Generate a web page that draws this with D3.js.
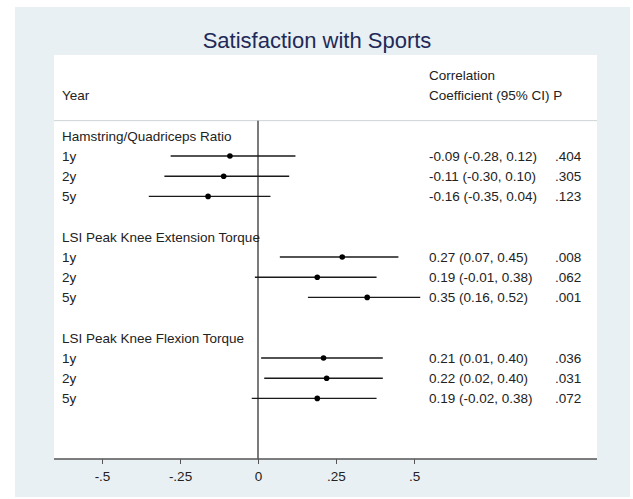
<!DOCTYPE html>
<html>
<head>
<meta charset="utf-8">
<script src="https://cdn.jsdelivr.net/npm/d3@7"></script>
<style>
  body { margin: 0; background: #fff; }
  svg text { font-family: "Liberation Sans", Arial, sans-serif; }
</style>
</head>
<body>
<svg id="vis" width="633" height="499"></svg>
<script>
// data
var groups = ["Hamstring/Quadriceps Ratio", "LSI Peak Knee Extension Torque", "LSI Peak Knee Flexion Torque"];
var years = ["1y", "2y", "5y"];
var estimates = [[-0.09, -0.11, -0.16], [0.27, 0.19, 0.35], [0.21, 0.22, 0.19]];
var lowerCI = [[-0.28, -0.30, -0.35], [0.07, -0.01, 0.16], [0.01, 0.02, -0.02]];
var upperCI = [[0.12, 0.10, 0.04], [0.45, 0.38, 0.52], [0.40, 0.40, 0.38]];
var pValues = [[".404", ".305", ".123"], [".008", ".062", ".001"], [".036", ".031", ".072"]];
var xTicks = [-0.5, -0.25, 0, 0.25, 0.5];
var xTickLabels = ["-.5", "-.25", "0", ".25", ".5"];

var svg = d3.select('#vis');

// plot region
var plot = {l: 54, r: 597, t: 55, b: 459};

// one row per line of text, group headers included
var rows = [];
groups.forEach(function (g, gi) {
    rows.push({type: 'head', label: g, idx: gi * 5});
    years.forEach(function (yr, yi) {
        rows.push({
            type: 'row', label: yr, idx: gi * 5 + yi + 1,
            est: estimates[gi][yi], lo: lowerCI[gi][yi], hi: upperCI[gi][yi],
            p: pValues[gi][yi]
        });
    });
});

var x = d3.scaleLinear().domain([-0.5, 0.5]).range([102, 414]);
var y = d3.scaleLinear().domain([-4, 16]).range([plot.t, plot.b]);

// outer panel + white plot area
svg.append('rect')
    .attr('x', 15).attr('y', 7)
    .attr('width', 615).attr('height', 490)
    .attr('fill', '#e9f0f3');

svg.append('rect')
    .attr('x', plot.l).attr('y', plot.t)
    .attr('width', plot.r - plot.l).attr('height', plot.b - plot.t)
    .attr('fill', '#ffffff');

// title
svg.append('text')
    .attr('x', 317).attr('y', 48)
    .attr('text-anchor', 'middle')
    .attr('fill', '#1e2a58')
    .style('font-size', '22px')
    .text('Satisfaction with Sports');

// column headers
var ciX = x(0.548), pX = x(0.952);
var hdr = svg.append('g').attr('fill', '#222').style('font-size', '13.5px');
hdr.append('text').attr('x', 62).attr('y', y(-2)).attr('dy', '0.35em').text('Year');
hdr.append('text').attr('x', ciX).attr('y', y(-3)).attr('dy', '0.35em').text('Correlation');
hdr.append('text').attr('x', ciX).attr('y', y(-2)).attr('dy', '0.35em').text('Coefficient (95% CI) P');

// header separator
svg.append('line')
    .attr('x1', plot.l).attr('x2', plot.r)
    .attr('y1', y(-0.75)).attr('y2', y(-0.75))
    .attr('stroke', '#cfd3d6').attr('stroke-width', 1);

// zero line
svg.append('line')
    .attr('x1', x(0)).attr('x2', x(0))
    .attr('y1', y(-0.75)).attr('y2', plot.b)
    .attr('stroke', '#333').attr('stroke-width', 1.3);

// row labels
svg.append('g').selectAll('text')
    .data(rows)
    .enter().append('text')
    .attr('x', 62)
    .attr('y', function (d) { return y(d.idx); })
    .attr('dy', '0.35em')
    .attr('fill', '#222')
    .style('font-size', '13.5px')
    .text(function (d) { return d.label; });

var dataRows = rows.filter(function (d) { return d.type == 'row'; });

// CI lines and point estimates
var marks = svg.append('g');
marks.selectAll('line')
    .data(dataRows)
    .enter().append('line')
    .attr('x1', function (d) { return x(d.lo); })
    .attr('x2', function (d) { return x(d.hi); })
    .attr('y1', function (d) { return y(d.idx); })
    .attr('y2', function (d) { return y(d.idx); })
    .attr('stroke', '#1a1a1a')
    .attr('stroke-width', 1.4);

marks.selectAll('circle')
    .data(dataRows)
    .enter().append('circle')
    .attr('cx', function (d) { return x(d.est); })
    .attr('cy', function (d) { return y(d.idx); })
    .attr('r', 2.8)
    .attr('fill', '#000');

// text columns (plain hyphen for minus, like the original)
var fmt = function (v) { return d3.format('.2f')(v).replace('\u2212', '-'); };
var txt = svg.append('g').attr('fill', '#222').style('font-size', '13.5px');
txt.selectAll('.ci')
    .data(dataRows)
    .enter().append('text')
    .attr('class', 'ci')
    .attr('x', ciX)
    .attr('y', function (d) { return y(d.idx); })
    .attr('dy', '0.35em')
    .text(function (d) { return fmt(d.est) + ' (' + fmt(d.lo) + ', ' + fmt(d.hi) + ')'; });

txt.selectAll('.p')
    .data(dataRows)
    .enter().append('text')
    .attr('class', 'p')
    .attr('x', pX)
    .attr('y', function (d) { return y(d.idx); })
    .attr('dy', '0.35em')
    .text(function (d) { return d.p; });

// x axis
var xAxis = svg.append('g')
    .attr('transform', 'translate(0,' + plot.b + ')');

xAxis.append('line')
    .attr('x1', plot.l).attr('x2', plot.r)
    .attr('stroke', '#555').attr('stroke-width', 1.3);

xAxis.call(d3.axisBottom(x)
        .tickValues(xTicks)
        .tickFormat(function (d, i) { return xTickLabels[i]; })
        .tickSize(5)
        .tickPadding(7));

xAxis.select('.domain').remove();
xAxis.selectAll('.tick line').attr('stroke', '#555');
xAxis.selectAll('.tick text')
    .attr('fill', '#222')
    .style('font-size', '13.5px')
    .style('font-family', '"Liberation Sans", Arial, sans-serif');
</script>
</body>
</html>
